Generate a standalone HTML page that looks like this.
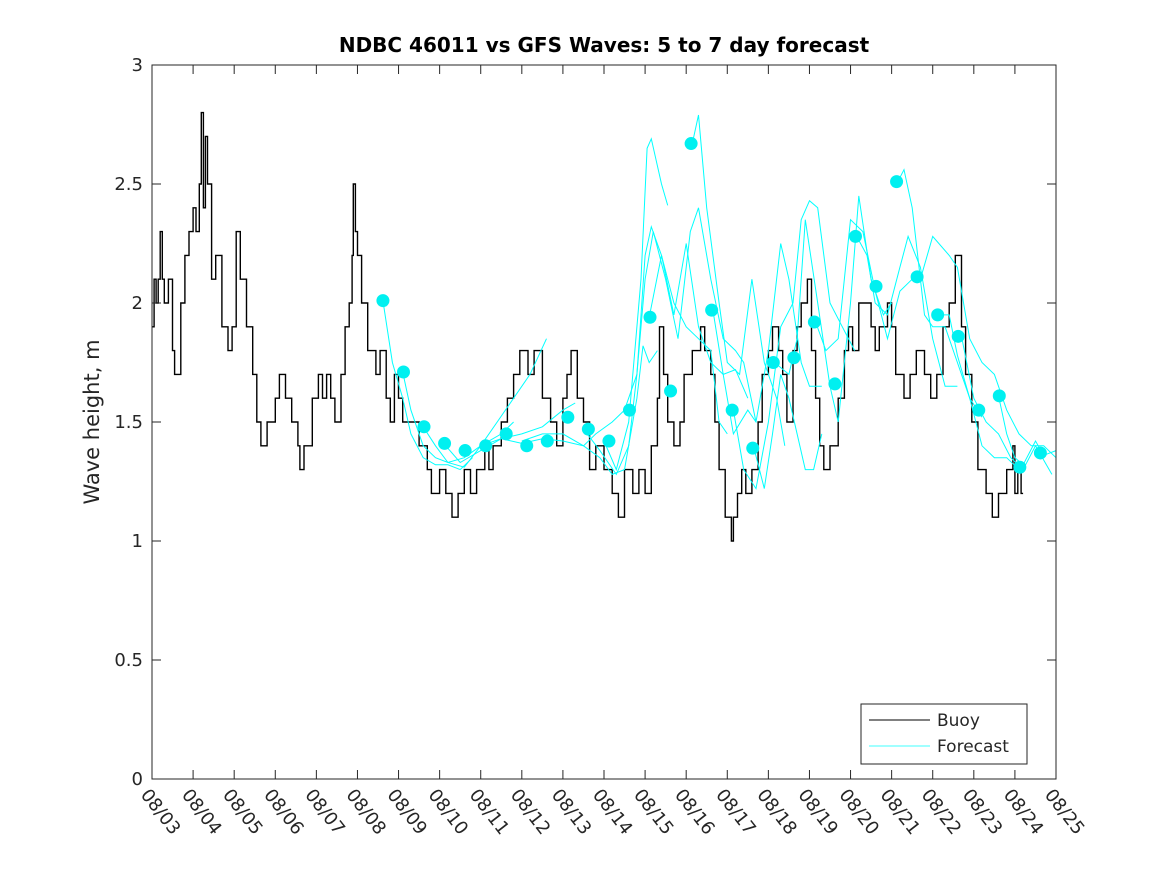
<!DOCTYPE html>
<html><head><meta charset="utf-8"><style>
body{margin:0;background:#fff;}
svg text{font-family:"DejaVu Sans","Liberation Sans",sans-serif;fill:#262626;}
</style></head><body>
<svg id="chart" width="1167" height="875" xmlns="http://www.w3.org/2000/svg">
<rect width="1167" height="875" fill="#fff"/>
<text x="604" y="52" text-anchor="middle" font-size="20" font-weight="bold" style="fill:#000">NDBC 46011 vs GFS Waves: 5 to 7 day forecast</text>
<text transform="translate(99,422) rotate(-90)" text-anchor="middle" font-size="21">Wave height, m</text>
<g id="grid"></g><g id="buoy"></g><g id="fc"></g><g id="dots"></g><g id="axes"></g>
<g>
<rect x="861" y="704" width="166" height="60" fill="#fff" stroke="#262626" stroke-width="1"/>
<line x1="869" y1="720" x2="930" y2="720" stroke="#000"/>
<text x="937" y="726" font-size="17">Buoy</text>
<line x1="869" y1="746" x2="930" y2="746" stroke="#00ffff" stroke-width="0.8"/>
<text x="937" y="752" font-size="17">Forecast</text>
</g>
</svg>
<script>
const xTickLabels=["08/03","08/04","08/05","08/06","08/07","08/08","08/09","08/10","08/11","08/12","08/13","08/14","08/15","08/16","08/17","08/18","08/19","08/20","08/21","08/22","08/23","08/24","08/25"];
const yTicks=[0,0.5,1,1.5,2,2.5,3];
const buoyDays=[0,0.05,0.1,0.15,0.2,0.25,0.3,0.4,0.5,0.55,0.7,0.8,0.9,1.0,1.07,1.15,1.2,1.25,1.3,1.35,1.45,1.55,1.7,1.85,1.95,2.05,2.15,2.3,2.45,2.55,2.65,2.8,3.0,3.1,3.25,3.4,3.55,3.6,3.7,3.9,4.05,4.15,4.25,4.35,4.45,4.6,4.7,4.8,4.87,4.9,4.95,5.0,5.1,5.25,5.45,5.55,5.7,5.8,5.9,6.0,6.1,6.3,6.5,6.7,6.8,7.0,7.15,7.3,7.45,7.6,7.75,7.9,8.1,8.2,8.3,8.5,8.65,8.8,8.95,9.15,9.3,9.5,9.7,9.85,10.0,10.1,10.2,10.35,10.5,10.65,10.8,11.0,11.2,11.35,11.5,11.7,11.85,12.0,12.15,12.3,12.35,12.45,12.55,12.7,12.85,12.95,13.15,13.35,13.45,13.6,13.7,13.8,13.95,14.1,14.15,14.25,14.35,14.45,14.6,14.75,14.85,15.0,15.1,15.25,15.35,15.45,15.6,15.7,15.8,15.95,16.05,16.15,16.25,16.35,16.5,16.7,16.85,16.95,17.05,17.2,17.5,17.6,17.7,17.9,18.0,18.1,18.3,18.45,18.6,18.8,18.95,19.1,19.25,19.4,19.55,19.7,19.8,19.95,20.1,20.3,20.45,20.6,20.8,20.95,21.0,21.07,21.15,21.2];
const buoyVals=[1.9,2.1,2.0,2.1,2.3,2.1,2.0,2.1,1.8,1.7,2.0,2.2,2.3,2.4,2.3,2.5,2.8,2.4,2.7,2.5,2.1,2.2,1.9,1.8,1.9,2.3,2.1,1.9,1.7,1.5,1.4,1.5,1.6,1.7,1.6,1.5,1.4,1.3,1.4,1.6,1.7,1.6,1.7,1.6,1.5,1.7,1.9,2.0,2.2,2.5,2.3,2.2,2.0,1.8,1.7,1.8,1.6,1.5,1.7,1.6,1.5,1.5,1.4,1.3,1.2,1.3,1.2,1.1,1.2,1.3,1.2,1.3,1.4,1.3,1.4,1.5,1.6,1.7,1.8,1.7,1.8,1.6,1.5,1.4,1.6,1.7,1.8,1.6,1.5,1.3,1.4,1.3,1.2,1.1,1.3,1.2,1.3,1.2,1.4,1.6,1.9,1.7,1.5,1.4,1.5,1.7,1.8,1.9,1.8,1.7,1.5,1.3,1.1,1.0,1.1,1.2,1.3,1.2,1.3,1.5,1.7,1.8,1.9,1.8,1.7,1.5,1.8,1.9,2.0,2.1,1.8,1.6,1.4,1.3,1.4,1.6,1.8,1.9,1.8,2.0,1.9,1.8,1.9,2.0,1.9,1.7,1.6,1.7,1.8,1.7,1.6,1.7,1.9,2.0,2.2,1.9,1.7,1.5,1.3,1.2,1.1,1.2,1.3,1.4,1.2,1.3,1.2];
const dotStart=5.62, dotStep=0.5;
const dotVals=[2.01,1.71,1.48,1.41,1.38,1.40,1.45,1.40,1.42,1.52,1.47,1.42,1.55,1.94,1.63,2.67,1.97,1.55,1.39,1.75,1.77,1.92,1.66,2.28,2.07,2.51,2.11,1.95,1.86,1.55,1.61,1.31,1.37];
const runA=[[5.62,2.01],[5.85,1.75],[6.1,1.6],[6.3,1.45],[6.6,1.35],[6.9,1.32],[7.2,1.32],[7.5,1.3],[7.8,1.35]];
const runB=[[6.1,1.71],[6.3,1.55],[6.6,1.4],[6.9,1.35],[7.2,1.33],[7.6,1.35],[8.0,1.4],[8.5,1.45],[8.8,1.5]];
const runC=[[6.6,1.48],[6.9,1.4],[7.2,1.33],[7.6,1.31],[8.0,1.4],[8.4,1.5],[8.8,1.6],[9.2,1.7],[9.6,1.85]];
const runD=[[7.1,1.41],[7.5,1.33],[8.0,1.38],[8.5,1.43],[9.0,1.45],[9.5,1.48],[10.0,1.55],[10.3,1.58]];
const runE=[[8.0,1.40],[8.5,1.43],[9.0,1.41],[9.5,1.43],[10.0,1.42],[10.5,1.40],[10.8,1.45],[11.2,1.5],[11.5,1.55]];
const runF=[[9.0,1.42],[9.5,1.45],[10.0,1.45],[10.5,1.40],[10.9,1.35],[11.2,1.28],[11.5,1.30],[11.8,1.6],[11.95,1.82],[12.1,1.75],[12.3,1.8]];
const runG=[[10.5,1.47],[10.9,1.38],[11.3,1.28],[11.6,1.4],[11.8,1.7],[12.0,2.2],[12.15,2.32],[12.4,2.2],[12.7,2.0],[13.0,1.9],[13.3,1.85],[13.6,1.8],[13.8,1.5],[14.0,1.45]];
const runH=[[11.0,1.42],[11.3,1.3],[11.6,1.5],[11.9,2.1],[12.05,2.65],[12.15,2.69],[12.4,2.5],[12.55,2.41]];
const runI=[[11.5,1.55],[11.8,1.7],[12.0,2.1],[12.2,2.3],[12.5,2.1],[12.8,1.85],[13.1,2.3],[13.3,2.4],[13.6,2.1],[13.9,1.85],[14.2,1.8],[14.4,1.75],[14.7,1.5]];
const runJ=[[12.1,1.94],[12.4,2.2],[12.7,1.95],[13.0,2.25],[13.3,1.9],[13.6,1.75],[13.9,1.7],[14.2,1.72],[14.5,1.6]];
const runK=[[13.15,2.67],[13.3,2.79],[13.5,2.4],[13.8,2.0],[14.0,1.75],[14.3,1.7],[14.6,2.1],[14.9,1.75],[15.2,1.6],[15.4,1.4]];
const runL=[[13.65,1.97],[13.9,1.7],[14.15,1.45],[14.5,1.55],[14.7,1.5],[15.0,1.8],[15.3,2.25],[15.5,2.1],[15.8,1.75],[16.0,1.65],[16.3,1.65]];
const runM=[[14.15,1.55],[14.4,1.3],[14.7,1.22],[15.0,1.5],[15.3,1.9],[15.6,2.0],[15.8,2.35],[16.0,2.43],[16.2,2.4],[16.5,2.0],[16.8,1.9],[17.1,1.8]];
const runN=[[14.65,1.39],[14.9,1.22],[15.1,1.45],[15.3,1.7],[15.5,1.6],[15.7,1.45],[15.9,1.3],[16.1,1.3],[16.3,1.45]];
const runO=[[15.15,1.75],[15.5,1.7],[15.7,1.85],[15.9,2.35],[16.2,2.0],[16.5,1.65],[16.7,1.5],[17.0,2.0],[17.2,2.45],[17.5,2.1],[17.8,1.95],[18.0,2.0]];
const runP=[[16.15,1.92],[16.4,1.8],[16.7,1.85],[17.0,2.35],[17.3,2.3],[17.6,2.05],[17.9,1.85],[18.2,2.05],[18.5,2.1]];
const runQ=[[17.15,2.28],[17.4,2.2],[17.6,2.0],[17.9,1.95],[18.2,2.15],[18.4,2.28],[18.7,2.15],[19.0,1.85],[19.3,1.65],[19.6,1.65]];
const runR=[[18.15,2.51],[18.3,2.56],[18.5,2.4],[18.8,1.95],[19.0,1.9],[19.3,1.9],[19.6,1.75],[19.9,1.6],[20.2,1.52]];
const runS=[[19.15,1.95],[19.4,1.95],[19.6,1.78],[19.9,1.6],[20.2,1.4],[20.5,1.35],[20.8,1.35],[21.1,1.3]];
const runT=[[19.7,1.86],[20.0,1.6],[20.3,1.5],[20.6,1.45],[20.9,1.35],[21.2,1.3],[21.5,1.4],[21.9,1.28]];
const runU=[[18.7,2.1],[19.0,2.28],[19.4,2.2],[19.6,2.15],[19.9,1.85],[20.2,1.75],[20.5,1.7],[20.8,1.55],[21.1,1.45],[21.4,1.4],[21.7,1.4],[22,1.35]];
const runV=[[20.6,1.61],[20.8,1.45],[21.0,1.35],[21.2,1.32],[21.5,1.42],[21.7,1.36],[22,1.38]];
const runs=[runA,runB,runC,runD,runE,runF,runG,runH,runI,runJ,runK,runL,runM,runN,runO,runP,runQ,runR,runS,runT,runU,runV];

const NS="http://www.w3.org/2000/svg";
const L=152,R=1056,T=65,B=779;
const xs=d=>L+(R-L)*d/22;
const ys=v=>B-(B-T)*v/3;
function mk(tag,attrs,parent){const e=document.createElementNS(NS,tag);for(const k in attrs)e.setAttribute(k,attrs[k]);parent.appendChild(e);return e;}

let d="M"+xs(buoyDays[0])+","+ys(buoyVals[0]);
for(let i=1;i<buoyDays.length;i++){d+="H"+xs(buoyDays[i]).toFixed(1)+"V"+ys(buoyVals[i]).toFixed(1);}
const bp=mk("path",{d:d,fill:"none",stroke:"#000","stroke-width":1.4},document.getElementById("buoy"));



const fg=document.getElementById("fc");
runs.forEach((r,i)=>{
  const p=mk("polyline",{points:r.map(q=>xs(q[0]).toFixed(1)+","+ys(q[1]).toFixed(1)).join(" "),fill:"none",stroke:"#00ffff","stroke-width":1},fg);
  
  
});
const dg=document.getElementById("dots");
dotVals.forEach((v,i)=>{
  const c=mk("circle",{cx:xs(dotStart+i*dotStep),cy:ys(v),r:6.5,fill:"#00f0f0"},dg);
  
  
});

const ag=document.getElementById("axes");
const box=mk("rect",{x:L,y:T,width:R-L,height:B-T,fill:"none",stroke:"#262626","stroke-width":1},ag);


yTicks.forEach(v=>{
  const y=ys(v);
  mk("line",{x1:L,y1:y,x2:L+9,y2:y,stroke:"#262626"},ag);
  mk("line",{x1:R,y1:y,x2:R-9,y2:y,stroke:"#262626"},ag);
  const t=mk("text",{x:L-9,y:y+6,"text-anchor":"end","font-size":18},ag);
  t.textContent=String(v);
  
  
});
xTickLabels.forEach((lab,i)=>{
  const x=xs(i);
  mk("line",{x1:x,y1:B,x2:x,y2:B-9,stroke:"#262626"},ag);
  mk("line",{x1:x,y1:T,x2:x,y2:T+9,stroke:"#262626"},ag);
  const t=mk("text",{transform:`translate(${x-12},${B+16}) rotate(52)`,"font-size":18},ag);
  t.textContent=lab;
  
  
});
</script>
</body></html>
